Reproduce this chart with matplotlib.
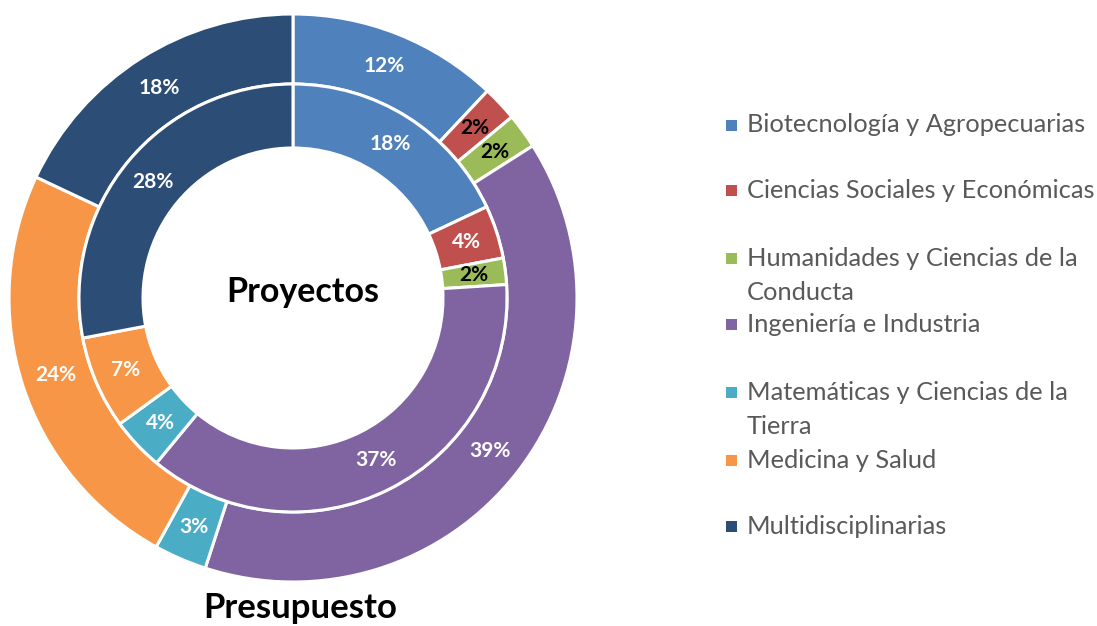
import textwrap
import matplotlib
matplotlib.use("Agg")
import matplotlib.pyplot as plt
from matplotlib.patches import Rectangle

categories = ["Biotecnología y Agropecuarias", "Ciencias Sociales y Económicas",
              "Humanidades y Ciencias de la Conducta", "Ingeniería e Industria",
              "Matemáticas y Ciencias de la Tierra", "Medicina y Salud",
              "Multidisciplinarias"]
presupuesto = [12, 2, 2, 39, 3, 24, 18]
proyectos = [18, 4, 2, 37, 4, 7, 28]
colors = ["#4F81BD", "#C0504D", "#9BBB59", "#8064A2", "#4BACC6", "#F79646", "#2C4D75"]
outer_label_colors = ["white", "black", "black", "white", "white", "white", "white"]
inner_label_colors = ["white", "white", "black", "white", "white", "white", "white"]

W, H = 1097, 626
fig = plt.figure(figsize=(W / 100, H / 100), dpi=100)
plt.rcParams['font.family'] = ['Lato', 'DejaVu Sans']

cx, cy, R = 293, 298, 284
ax = fig.add_axes([(cx - R) / W, (H - cy - R) / H, 2 * R / W, 2 * R / H])

r_out = 1.0
r_mid = 214 / R
r_in = 150 / R
wp = dict(edgecolor="white", linewidth=2.2)
_, _, outer_t = ax.pie(presupuesto, radius=r_out, colors=colors, startangle=90,
                       counterclock=False,
                       wedgeprops=dict(width=r_out - r_mid, **wp),
                       autopct="%d%%", pctdistance=(r_out + r_mid) / 2 / r_out,
                       textprops=dict(fontsize=15, fontweight="bold"))
_, _, inner_t = ax.pie(proyectos, radius=r_mid, colors=colors, startangle=90,
                       counterclock=False,
                       wedgeprops=dict(width=r_mid - r_in, **wp),
                       autopct="%d%%", pctdistance=(r_mid + r_in) / 2 / r_mid,
                       textprops=dict(fontsize=15, fontweight="bold"))
ax.set_xlim(-1, 1)
ax.set_ylim(-1, 1)
ax.set_aspect("equal")
ax.axis("off")

for t, c in zip(outer_t, outer_label_colors):
    t.set_color(c)
for t, c in zip(inner_t, inner_label_colors):
    t.set_color(c)
for p in ax.patches:
    p.set_clip_on(False)

def fx(x):
    return x / W

def fy(y):
    return 1 - y / H

fig.text(fx(303), fy(292), "Proyectos", ha="center", va="center",
         fontsize=24.5, fontweight="bold", color="black")
fig.text(fx(300), fy(608), "Presupuesto", ha="center", va="center",
         fontsize=25, fontweight="bold", color="black")

leg_y = [125, 191, 258, 325, 392, 460, 526]
for name, col, y in zip(categories, colors, leg_y):
    fig.patches.append(Rectangle((fx(726), fy(y + 5.5)), 11 / W, 11 / H,
                                 transform=fig.transFigure, facecolor=col,
                                 edgecolor="none"))
    lines = textwrap.wrap(name, 30)
    for i, line in enumerate(lines):
        fig.text(fx(747), fy(y + 34 * i), line, ha="left", va="center",
                 fontsize=18.3, color="#595959")

fig.savefig("out.png", dpi=100)
